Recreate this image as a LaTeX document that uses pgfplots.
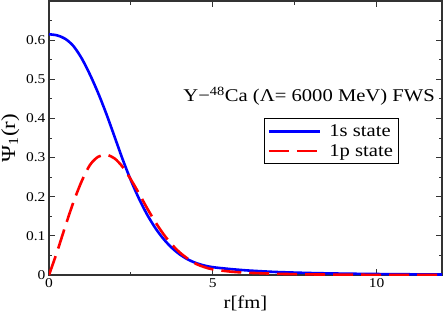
\documentclass[border=0pt]{standalone}
\usepackage{fontspec}
\setmainfont{Liberation Serif}[FakeStretch=1.15]
\usepackage{pgfplots}
\pgfplotsset{compat=1.18}
\begin{document}
\begin{tikzpicture}
\begin{axis}[
  scale only axis, width=393bp, height=274bp,
  xmin=0, xmax=12, ymin=0, ymax=0.7,
  xtick={0,5,10}, minor xtick={2.5,7.5},
  ytick={0,0.1,0.2,0.3,0.4,0.5,0.6},
  minor ytick={0.05,0.15,0.25,0.35,0.45,0.55,0.65},
  tick align=inside, major tick length=6bp, minor tick length=3.5bp,
  every tick/.style={black!80, line width=1bp},
  axis line style={black!80, line width=1.3bp},
  /pgf/number format/assume math mode=true,
  yticklabel style={/pgf/number format/fixed, /pgf/number format/precision=1},
  tick label style={font=\fontsize{13.5}{13.5}\selectfont},
  xlabel={r[fm]}, ylabel={Ψ\textsubscript{1}(r)},
  xlabel style={font=\fontsize{18}{18}\selectfont, yshift=-1bp},
  ylabel style={font=\fontsize{20}{20}\selectfont},
  legend style={at={(axis description cs:0.547,0.573)}, anchor=north west,
    draw=black, line width=1bp, font=\fontsize{18}{18}\selectfont,
    inner xsep=3bp, inner ysep=3bp,
    nodes={inner xsep=2.3bp, inner ysep=3.2bp}},
  legend cell align=left,
  legend image code/.code={\draw[#1] (0bp,0bp) -- (51bp,0bp);},
]
\addplot[blue, line width=2.6bp, smooth] coordinates {
(0,0.615) (0.25,0.6122) (0.5,0.6032) (0.75,0.5845) (1.0,0.5532) (1.25,0.5122)
(1.5,0.465) (1.75,0.4119) (2.0,0.3538) (2.25,0.2953) (2.5,0.2418) (2.75,0.1947)
(3.0,0.1538) (3.25,0.1197) (3.5,0.0918) (3.75,0.0695) (4.0,0.0522) (4.25,0.0393)
(4.5,0.0302) (4.75,0.024) (5.0,0.020) (5.5,0.0155) (6,0.012) (6.5,0.0095)
(7,0.0075) (8,0.005) (9,0.0035) (10,0.0025) (11,0.0018) (12,0.0013)
};
\addlegendentry{\hspace{6bp}1s state}
\addplot[red, line width=2.6bp, dash pattern=on 20bp off 8bp, smooth] coordinates {
(0,0) (0.25,0.06) (0.5,0.125) (0.75,0.187) (1.0,0.240) (1.25,0.281)
(1.5,0.302) (1.75,0.307) (2.0,0.298) (2.25,0.276) (2.5,0.244) (2.75,0.208)
(3.0,0.170) (3.25,0.135) (3.5,0.104) (3.75,0.078) (4.0,0.057) (4.25,0.041)
(4.5,0.028) (4.75,0.020) (5.0,0.0145) (5.5,0.009) (6,0.006) (7,0.003)
(8,0.0015) (9,0.0008) (10,0.0004) (12,0)
};
\addlegendentry{\hspace{6bp}1p state}
\node[anchor=base west, font=\fontsize{18}{18}\selectfont, inner sep=0pt]
  at (axis cs:4.1,0.4436) {Y−\textsuperscript{48}Ca (Λ= 6000 MeV) FWS};
\end{axis}
\pgfresetboundingbox
\path[use as bounding box] (-49bp,-37bp) rectangle (394bp,275bp);
\end{tikzpicture}
\end{document}
